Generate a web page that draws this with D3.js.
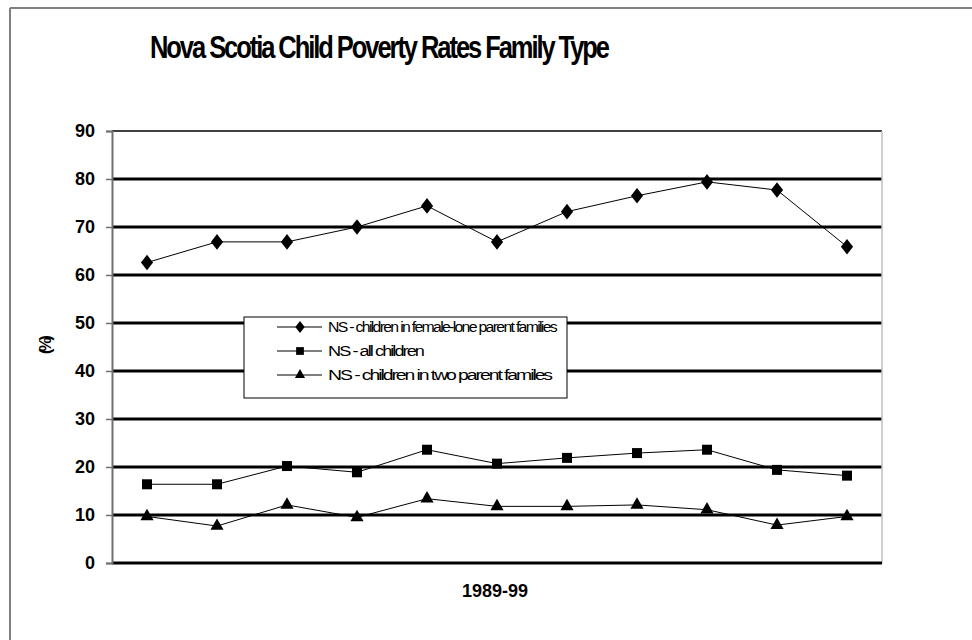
<!DOCTYPE html>
<html lang="en">
  <head>
    <meta charset="utf-8">
    <title>Nova Scotia Child Poverty Rates Family Type</title>
    <script src="https://d3js.org/d3.v7.min.js"></script>
    <style>
      body { margin: 0; background: #fff; }
      text { font-family: "Liberation Sans", Arial, sans-serif; }
    </style>
  </head>
  <body>
    <div id="chart"></div>
    <script>
      // values, years 1989..1999
      var years = ["1989", "1990", "1991", "1992", "1993", "1994", "1995", "1996", "1997", "1998", "1999"];
      var femaleLone = [62.6, 66.9, 66.9, 70.0, 74.4, 66.9, 73.2, 76.5, 79.4, 77.7, 65.9];
      var allChildren = [16.4, 16.4, 20.2, 18.9, 23.6, 20.7, 21.9, 22.9, 23.6, 19.4, 18.2];
      var twoParent = [9.7, 7.7, 12.1, 9.5, 13.4, 11.8, 11.8, 12.1, 11.1, 7.9, 9.7];
      var yTicks = [0, 10, 20, 30, 40, 50, 60, 70, 80, 90];
      var seriesNames = ["NS - children in female-lone parent families", "NS - all children", "NS - children in two parent familes"];

      var W = 972, H = 640;
      var svg = d3.select("#chart").append("svg").attr("width", W).attr("height", H);

      // outer frame (only top and left visible)
      svg.append("line").attr("x1", 10).attr("y1", 8).attr("x2", W).attr("y2", 8)
        .attr("stroke", "#808080").attr("stroke-width", 2);
      svg.append("line").attr("x1", 10).attr("y1", 8).attr("x2", 10).attr("y2", H)
        .attr("stroke", "#808080").attr("stroke-width", 2);

      var pLeft = 112, pRight = 882, pTop = 131, pBottom = 563;
      var x = d3.scalePoint().domain(years).range([pLeft, pRight]).padding(0.5);
      var y = d3.scaleLinear().domain([0, 90]).range([pBottom, pTop]);

      // gridlines
      svg.append("g").selectAll("line").data(yTicks.filter(function (d) { return d > 0; }))
        .enter().append("line")
        .attr("x1", pLeft).attr("x2", pRight)
        .attr("y1", function (d) { return y(d); }).attr("y2", function (d) { return y(d); })
        .attr("stroke", "#000").attr("stroke-width", function (d) { return d == 90 ? 1.5 : 3; });

      // right border of plot area
      svg.append("line").attr("x1", pRight).attr("x2", pRight).attr("y1", pTop).attr("y2", pBottom)
        .attr("stroke", "#c0c0c0").attr("stroke-width", 1.5);

      // bottom axis
      svg.append("line").attr("x1", pLeft).attr("x2", pRight).attr("y1", pBottom).attr("y2", pBottom)
        .attr("stroke", "#000").attr("stroke-width", 3);

      // y axis
      var yAxis = svg.append("g").attr("transform", "translate(" + pLeft + ",0)")
        .call(d3.axisLeft(y).tickValues(yTicks).tickSize(6).tickPadding(11));
      yAxis.select(".domain").attr("stroke", "#707070").attr("stroke-width", 2);
      yAxis.selectAll(".tick line").attr("stroke", "#707070").attr("stroke-width", 1.5);
      yAxis.selectAll("text").attr("fill", "#000").style("font-size", "18px").style("font-weight", "bold")
        .style("font-family", "'Liberation Sans', Arial, sans-serif");

      // series
      var line = d3.line().x(function (d, i) { return x(years[i]); }).y(function (d) { return y(d); });
      var all = [femaleLone, allChildren, twoParent];
      var shapes = [d3.symbolDiamond, d3.symbolSquare, d3.symbolTriangle];
      var sizes = [70, 100, 75];

      all.forEach(function (vals, k) {
        svg.append("path").datum(vals).attr("d", line)
          .attr("fill", "none").attr("stroke", "#000").attr("stroke-width", 1);
        svg.append("g").selectAll("path").data(vals).enter().append("path")
          .attr("d", d3.symbol().type(shapes[k]).size(sizes[k]))
          .attr("transform", function (d, i) {
            return "translate(" + x(years[i]) + "," + y(d) + ")" + (k == 0 ? " scale(1.35,1)" : "");
          })
          .attr("fill", "#000");
      });

      // legend
      var lg = svg.append("g");
      lg.append("rect").attr("x", 244).attr("y", 317).attr("width", 323).attr("height", 81)
        .attr("fill", "#fff").attr("stroke", "#000").attr("stroke-width", 1);
      seriesNames.forEach(function (name, k) {
        var ly = 327 + k * 24;
        lg.append("line").attr("x1", 277).attr("x2", 322).attr("y1", ly).attr("y2", ly)
          .attr("stroke", "#000").attr("stroke-width", 1);
        lg.append("path").attr("d", d3.symbol().type(shapes[k]).size(sizes[k] * 0.6))
          .attr("transform", "translate(300," + ly + ")" + (k == 0 ? " scale(1.35,1)" : ""))
          .attr("fill", "#000");
        var widths = [228, 95, 223];
        lg.append("text").attr("x", 328).attr("y", ly + 5)
          .attr("textLength", widths[k]).attr("lengthAdjust", "spacingAndGlyphs")
          .style("font-size", "14px").style("letter-spacing", "-1.5px").text(name);
      });

      // title
      svg.append("text").attr("x", 150).attr("y", 58)
        .attr("textLength", 458).attr("lengthAdjust", "spacingAndGlyphs")
        .style("font-size", "31px").style("font-weight", "bold").style("letter-spacing", "-2.5px")
        .text("Nova Scotia Child Poverty Rates Family Type");

      // axis titles
      svg.append("text").attr("x", 495).attr("y", 597).attr("text-anchor", "middle")
        .style("font-size", "18px").style("font-weight", "bold").text("1989-99");
      svg.append("text").attr("transform", "translate(51,346) rotate(-90)").attr("text-anchor", "middle")
        .style("font-size", "16px").style("font-weight", "bold").style("letter-spacing", "-3px").text("(%)");
    </script>
  </body>
</html>
